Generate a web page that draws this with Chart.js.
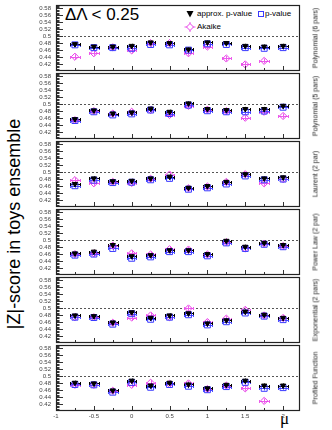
<!DOCTYPE html>
<html><head><meta charset="utf-8">
<script src="https://cdn.jsdelivr.net/npm/chart.js@4.4.1/dist/chart.umd.min.js"></script>
<style>
html,body{margin:0;padding:0;background:#fff;}
#wrap{position:relative;width:332px;height:430px;overflow:hidden;font-family:"Liberation Sans",Arial,sans-serif;}
#wrap canvas{position:absolute;left:0;}
.abs{position:absolute;white-space:nowrap;}
.rlab{position:absolute;font-size:7px;color:#222;white-space:nowrap;transform:translate(-50%,-50%) rotate(-90deg);}
.leg{position:absolute;font-size:8px;line-height:8px;color:#000;white-space:nowrap;}
</style></head><body><div id="wrap">
<div class="abs" style="left:65px;top:6px;font-size:17px;line-height:17px;">ΔΛ &lt; 0.25</div>
<svg class="abs" style="left:186px;top:10px" width="8" height="8"><polygon points="0.5,1 7.5,1 4,7.5" fill="#000"/></svg>
<div class="leg" style="left:197px;top:10px;">approx. p-value</div>
<svg class="abs" style="left:257px;top:10px" width="8" height="8"><rect x="1.5" y="1.5" width="5" height="5" fill="none" stroke="#3a3aff" stroke-width="1"/></svg>
<div class="leg" style="left:265px;top:10px;">p-value</div>
<svg class="abs" style="left:184px;top:21px" width="12" height="12"><path d="M0.5,6 H11.5 M6,1 V11" stroke="#e85ae8" stroke-width="1"/><polygon points="6,2.5 9.5,6 6,9.5 2.5,6" fill="#fff" stroke="#e83ee8" stroke-width="1"/></svg>
<div class="leg" style="left:197px;top:23px;">Akaike</div>
<div class="abs" style="left:14px;top:224px;font-size:18px;line-height:18px;transform:translate(-50%,-50%) rotate(-90deg);">|Z|-score in toys ensemble</div>
<div class="abs" style="left:280px;top:410px;font-size:17px;line-height:17px;font-family:'Liberation Serif',serif;">μ</div>
</div>
<script>
// ---------- data ----------
const mu = [-0.75,-0.5,-0.25,0,0.25,0.5,0.75,1,1.25,1.5,1.75,2];
const panelNames = ["Polynomial (6 pars)","Polynomial (5 pars)","Laurent (2 par)","Power Law (2 par)","Exponential (2 pars)","Profiled Function"];
const seriesNames = ["approx. p-value","p-value","Akaike"];
const xTickLabels = [-1,-0.5,0,0.5,1,1.5,2];
const yTickLabels = [0.42,0.44,0.46,0.48,0.5,0.52,0.54,0.56,0.58];
const refLine = 0.5;
const xErr = 0.0625;
const yErr = [0.006,0.006,0.007];

const approxPoly6 = [0.478,0.471,0.471,0.473,0.483,0.481,0.463,0.483,0.481,0.473,0.471,0.473];
const pvalPoly6   = [0.476,0.468,0.468,0.466,0.477,0.476,0.461,0.479,0.477,0.468,0.466,0.468];
const akaikePoly6 = [0.442,0.452,0.469,0.460,0.481,0.481,0.452,0.471,0.437,0.420,0.430,null];

const approxPoly5 = [0.458,0.483,0.474,0.477,0.488,0.479,0.503,0.487,0.484,0.487,0.487,0.496];
const pvalPoly5   = [0.454,0.479,0.470,0.473,0.484,0.474,0.498,0.482,0.479,0.479,0.481,0.492];
const akaikePoly5 = [0.455,0.481,0.474,0.479,0.484,0.470,0.496,0.485,0.481,0.462,0.479,0.467];

const approxLaurent = [0.467,0.483,0.475,0.476,0.483,0.488,0.456,0.461,0.473,0.495,0.483,0.486];
const pvalLaurent   = [0.462,0.478,0.471,0.472,0.479,0.483,0.452,0.456,0.467,0.490,0.479,0.481];
const akaikeLaurent = [0.478,0.469,0.473,0.470,0.482,0.494,0.455,0.460,0.473,0.495,0.469,0.481];

const approxPower = [0.463,0.468,0.487,0.455,0.458,0.472,0.472,0.461,0.499,0.482,0.493,0.487];
const pvalPower   = [0.458,0.461,0.477,0.449,0.453,0.468,0.468,0.456,0.493,0.477,0.489,0.482];
const akaikePower = [0.461,0.463,0.485,0.463,0.460,0.475,0.474,0.460,0.495,0.477,0.491,0.484];

const approxExpo = [0.480,0.478,0.460,0.489,0.473,0.480,0.486,0.457,0.466,0.491,0.482,0.473];
const pvalExpo   = [0.475,0.474,0.455,0.485,0.469,0.475,0.482,0.453,0.462,0.487,0.478,0.468];
const akaikeExpo = [0.475,0.475,0.459,0.474,0.480,0.475,0.500,0.461,0.471,0.496,0.480,0.473];

const approxProf = [0.482,0.480,0.460,0.488,0.474,0.482,0.477,0.466,0.476,0.488,0.474,0.474];
const pvalProf   = [0.477,0.476,0.455,0.483,0.469,0.477,0.472,0.462,0.471,0.483,0.466,0.468];
const akaikeProf = [0.476,0.476,0.459,0.476,0.482,0.479,0.480,0.464,0.474,0.466,0.430,null];

const panelSeries = [
  [approxPoly6, pvalPoly6, akaikePoly6],
  [approxPoly5, pvalPoly5, akaikePoly5],
  [approxLaurent, pvalLaurent, akaikeLaurent],
  [approxPower, pvalPower, akaikePower],
  [approxExpo, pvalExpo, akaikeExpo],
  [approxProf, pvalProf, akaikeProf]
];

// ---------- layout / style ----------
const X_MIN = -1, X_MAX = 2.21, Y_MIN = 0.404, Y_MAX = 0.59;
const FRAME_LEFT = 56, FRAME_RIGHT = 299, FRAME_H = 65;
const frameTops = [5,73,141,209,277,345];
const PADV = 6, XAXIS_H = 14;
const FONT = '"Liberation Sans", Arial, sans-serif';
const markerColors = ['#000000','#3a3aff','#e83ee8'];
const errColors = ['#000000','#4a4aff','#ec5cec'];

const decor = {
  id:'decor',
  beforeDatasetsDraw(chart){
    const {ctx, chartArea:a, scales:{x,y}} = chart;
    ctx.save();
    const yr = Math.round(y.getPixelForValue(refLine))+0.5;
    ctx.strokeStyle='#555'; ctx.lineWidth=1; ctx.setLineDash([2,2]);
    ctx.beginPath(); ctx.moveTo(a.left,yr); ctx.lineTo(a.right,yr); ctx.stroke();
    ctx.setLineDash([]);
    ctx.beginPath(); ctx.rect(a.left,a.top,a.right-a.left,a.bottom-a.top); ctx.clip();
    for (let di=chart.data.datasets.length-1; di>=0; di--){
      const ds = chart.data.datasets[di];
      ctx.strokeStyle = errColors[di]; ctx.lineWidth = 1;
      ctx.beginPath();
      ds.data.forEach(p=>{
        if (p.y==null) return;
        const px = Math.round(x.getPixelForValue(p.x))+0.5;
        const py = Math.round(y.getPixelForValue(p.y))+0.5;
        const x0 = Math.round(x.getPixelForValue(p.x-xErr))+0.5, x1 = Math.round(x.getPixelForValue(p.x+xErr))+0.5;
        const y0 = y.getPixelForValue(p.y-yErr[di]), y1 = y.getPixelForValue(p.y+yErr[di]);
        ctx.moveTo(x0,py); ctx.lineTo(x1,py);
        ctx.moveTo(px,y0); ctx.lineTo(px,y1);
        ctx.moveTo(x0,py-1.5); ctx.lineTo(x0,py+1.5);
        ctx.moveTo(x1,py-1.5); ctx.lineTo(x1,py+1.5);
      });
      ctx.stroke();
    }
    ctx.restore();
  },
  afterDraw(chart){
    const {ctx, chartArea:a, scales:{x,y}} = chart;
    ctx.save();
    ctx.strokeStyle='#333'; ctx.lineWidth=1;
    ctx.beginPath();
    for (let k=-4; ; k++){
      const v = 0.42 + k*0.004;
      if (v > Y_MAX) break;
      if (v < Y_MIN) continue;
      const py = Math.round(y.getPixelForValue(v))+0.5;
      const len = (k%5===0) ? 7 : 3.5;
      ctx.moveTo(a.left, py); ctx.lineTo(a.left+len, py);
    }
    for (let k=0; ; k++){
      const v = -1 + k*0.25;
      if (v > X_MAX) break;
      const px = Math.round(x.getPixelForValue(v))+0.5;
      const len = (k%2===0) ? 4 : 2;
      ctx.moveTo(px, a.bottom); ctx.lineTo(px, a.bottom-len);
    }
    ctx.stroke();
    ctx.strokeStyle='#222'; ctx.lineWidth=1.2;
    ctx.strokeRect(Math.round(a.left)+0.5, Math.round(a.top)+0.5, Math.round(a.right-a.left), Math.round(a.bottom-a.top));
    ctx.restore();
  }
};

const wrap = document.getElementById('wrap');
panelSeries.forEach((series, i)=>{
  const last = i===panelSeries.length-1;
  const c = document.createElement('canvas');
  const h = FRAME_H + PADV + (last ? XAXIS_H : PADV);
  c.width = 332; c.height = h;
  c.style.width='332px'; c.style.height=h+'px'; c.style.top=(frameTops[i]-PADV)+'px';
  wrap.appendChild(c);
  const lab = document.createElement('div');
  lab.className='rlab'; lab.textContent = panelNames[i];
  lab.style.left='315px'; lab.style.top=(frameTops[i]+FRAME_H/2)+'px';
  wrap.appendChild(lab);
  const pts = arr => mu.map((m,k)=>({x:m, y:arr[k]}));
  new Chart(c, {
    type:'scatter',
    data:{datasets:[
      {label:seriesNames[0], data:pts(series[0]), pointStyle:'triangle', rotation:180, radius:3, backgroundColor:markerColors[0], borderColor:markerColors[0], borderWidth:1, order:1},
      {label:seriesNames[1], data:pts(series[1]), pointStyle:'rect', radius:4.2, backgroundColor:'rgba(0,0,0,0)', borderColor:markerColors[1], borderWidth:1, order:2},
      {label:seriesNames[2], data:pts(series[2]), pointStyle:'rectRot', radius:3.6, backgroundColor:'rgba(0,0,0,0)', borderColor:markerColors[2], borderWidth:1, order:3}
    ]},
    options:{
      responsive:false, animation:false, devicePixelRatio:1,
      layout:{padding:{left:0, right:332-FRAME_RIGHT, top:PADV, bottom: last?0:PADV}},
      plugins:{legend:{display:false}, tooltip:{enabled:false}},
      elements:{point:{hoverRadius:3}},
      scales:{
        x:{type:'linear', min:X_MIN, max:X_MAX, display:last,
           grid:{display:false, drawTicks:false}, border:{display:false},
           ticks:{font:{size:6, family:FONT}, color:'#444', padding:3, maxRotation:0, autoSkip:false,
                  callback:v=>String(+(+v).toFixed(2))},
           afterBuildTicks:s=>{s.ticks = xTickLabels.map(v=>({value:v}));},
           afterFit:s=>{s.height = last ? XAXIS_H : 0; s.paddingLeft=0; s.paddingRight=0;}},
        y:{type:'linear', min:Y_MIN, max:Y_MAX,
           grid:{display:false, drawTicks:false}, border:{display:false},
           ticks:{font:{size:6, family:FONT}, color:'#444', padding:5, autoSkip:false,
                  callback:v=>String(+(+v).toFixed(2))},
           afterBuildTicks:s=>{s.ticks = yTickLabels.map(v=>({value:v}));},
           afterFit:s=>{s.width = FRAME_LEFT; s.paddingTop=0; s.paddingBottom=0;}}
      }
    },
    plugins:[decor]
  });
});
</script>
</body></html>
